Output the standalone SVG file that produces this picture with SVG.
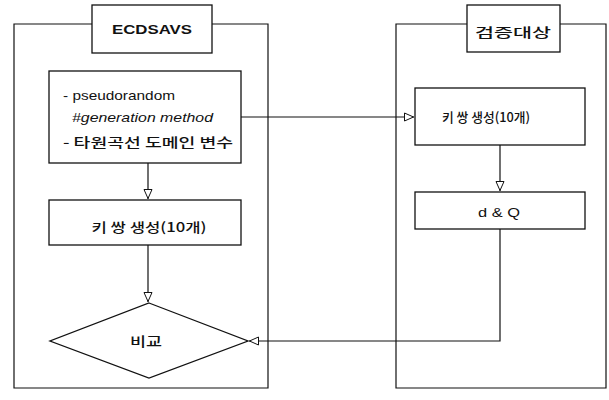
<svg xmlns="http://www.w3.org/2000/svg" width="609" height="400" viewBox="0 0 609 400">
<defs>
<marker id="tri" viewBox="0 0 10 10" refX="10" refY="5" markerWidth="10" markerHeight="10" markerUnits="userSpaceOnUse" orient="auto">
<path d="M0.5,1 L9.5,5 L0.5,9 Z" fill="#fff" stroke="#111" stroke-width="1"/>
</marker>
</defs>
<style>
.b{fill:#fff;stroke:#111;stroke-width:1.3}
.c{fill:none;stroke:#111;stroke-width:1.2}
.t{font-family:"Liberation Sans","Noto Sans CJK KR",sans-serif;font-size:13px;fill:#111}
.k{font-family:"Noto Sans CJK KR","Liberation Sans",sans-serif;font-size:13px;fill:#111;font-weight:500}
</style>
<rect width="609" height="400" fill="#fff"/>
<g id="container-left">
<path class="c" d="M92,24 H14 V388 H268 V24 H212"/>
</g>
<g id="container-right">
<path class="c" d="M467,24 H396 V388 H606 V24 H560"/>
</g>
<g id="connectors">
<path class="c" d="M241,117 H414" marker-end="url(#tri)"/>
<path class="c" d="M148,163 V199" marker-end="url(#tri)"/>
<path class="c" d="M148,245 V302" marker-end="url(#tri)"/>
<path class="c" d="M500,145 V191" marker-end="url(#tri)"/>
<path class="c" d="M500,229 V341 H249" marker-end="url(#tri)"/>
</g>
<g id="title-ecdsavs">
<rect class="b" x="92" y="5" width="120" height="48"/>
<text class="t" x="152" y="34" text-anchor="middle" font-weight="bold" textLength="80" lengthAdjust="spacingAndGlyphs">ECDSAVS</text>
</g>
<g id="title-target">
<rect class="b" x="467" y="5" width="93" height="47"/>
<text class="k" x="513" y="37" text-anchor="middle" textLength="76" lengthAdjust="spacingAndGlyphs">검증대상</text>
</g>
<g id="params">
<rect class="b" x="49" y="71" width="192" height="92"/>
<text class="t" x="63" y="100" textLength="112" lengthAdjust="spacingAndGlyphs">- pseudorandom</text>
<text class="t" x="72" y="122" font-style="italic" textLength="141" lengthAdjust="spacingAndGlyphs">#generation method</text>
<text class="k" x="63" y="147" textLength="170" lengthAdjust="spacingAndGlyphs">- 타원곡선 도메인 변수</text>
</g>
<g id="keygen-left">
<rect class="b" x="49" y="200" width="192" height="45"/>
<text class="k" x="149" y="232" text-anchor="middle" textLength="115" lengthAdjust="spacingAndGlyphs">키 쌍 생성(10개)</text>
</g>
<g id="compare">
<polygon class="b" points="149,303 248,341 149,378 50,341"/>
<text class="k" x="146" y="346" text-anchor="middle" textLength="32" lengthAdjust="spacingAndGlyphs">비교</text>
</g>
<g id="keygen-right">
<rect class="b" x="415" y="88" width="170" height="57"/>
<text class="k" x="486" y="122" text-anchor="middle" textLength="88" lengthAdjust="spacingAndGlyphs">키 쌍 생성(10개)</text>
</g>
<g id="dq">
<rect class="b" x="415" y="192" width="170" height="37"/>
<text class="t" x="499" y="217" text-anchor="middle" textLength="42" lengthAdjust="spacingAndGlyphs">d &amp; Q</text>
</g>
</svg>
